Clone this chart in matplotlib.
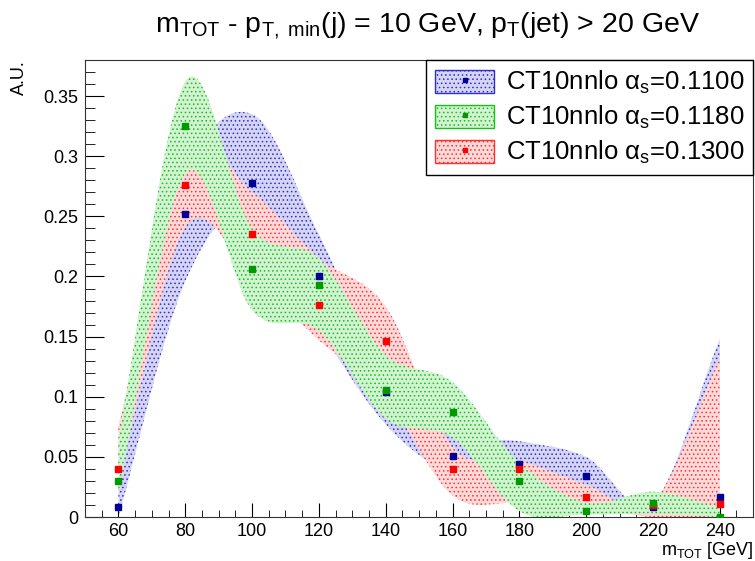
import numpy as np
import matplotlib.pyplot as plt
from matplotlib.path import Path
from matplotlib.patches import PathPatch, Patch
from matplotlib.lines import Line2D
from matplotlib.ticker import MultipleLocator, FuncFormatter

plt.rcParams['font.family'] = ['Liberation Sans', 'DejaVu Sans']
plt.rcParams['mathtext.fontset'] = 'custom'
plt.rcParams['mathtext.rm'] = 'Liberation Sans'
plt.rcParams['mathtext.it'] = 'Liberation Sans:italic'
plt.rcParams['hatch.linewidth'] = 0.6

# data
m_tot = [60, 80, 100, 120, 140, 160, 180, 200, 220, 240]

val_110 = [0.008, 0.252, 0.278, 0.200, 0.104, 0.051, 0.044, 0.034, 0.008, 0.017]
up_110 = [0.045, 0.28, 0.335, 0.235, 0.12, 0.07, 0.063, 0.05, 0.012, 0.148]
lo_110 = [0.0, 0.196, 0.255, 0.158, 0.077, 0.035, 0.025, 0.01, 0.0, 0.0]

val_118 = [0.030, 0.325, 0.206, 0.193, 0.106, 0.087, 0.030, 0.005, 0.012, 0.000]
up_118 = [0.065, 0.362, 0.24, 0.215, 0.135, 0.112, 0.045, 0.012, 0.021, 0.008]
lo_118 = [0.02, 0.285, 0.172, 0.155, 0.082, 0.066, 0.005, 0.002, 0.003, 0.0]

val_130 = [0.040, 0.276, 0.235, 0.176, 0.146, 0.040, 0.040, 0.017, 0.010, 0.011]
up_130 = [0.075, 0.30, 0.27, 0.215, 0.175, 0.058, 0.047, 0.027, 0.012, 0.132]
lo_130 = [0.03, 0.241, 0.20, 0.147, 0.10, 0.018, 0.012, 0.008, 0.0, 0.0]

labels = ['CT10nnlo α$_{\\rm s}$=0.1100',
          'CT10nnlo α$_{\\rm s}$=0.1180',
          'CT10nnlo α$_{\\rm s}$=0.1300']

face_110, dots_110, pt_110 = '#d5d5f3', '#3030c8', '#000099'
face_118, dots_118, pt_118 = '#d3f1d3', '#18c018', '#009900'
face_130, dots_130, pt_130 = '#fddada', '#ff3030', '#ff0000'


def smooth_segments(xs, ys):
    # cubic bezier pieces through the points (catmull-rom tangents)
    n = len(xs)
    m = []
    for i in range(n):
        if i == 0:
            m.append(ys[1] - ys[0])
        elif i == n - 1:
            m.append(ys[-1] - ys[-2])
        else:
            m.append((ys[i + 1] - ys[i - 1]) / 2)
    verts = []
    for i in range(n - 1):
        dx = xs[i + 1] - xs[i]
        verts += [(xs[i] + dx / 3, ys[i] + m[i] / 3),
                  (xs[i + 1] - dx / 3, ys[i + 1] - m[i + 1] / 3),
                  (xs[i + 1], ys[i + 1])]
    return verts


def band(ax, xs, up, lo, face, dots, z):
    verts = [(xs[0], up[0])] + smooth_segments(xs, up)
    codes = [Path.MOVETO] + [Path.CURVE4] * (len(verts) - 1)
    verts.append((xs[-1], lo[-1]))
    codes.append(Path.LINETO)
    low = smooth_segments(xs[::-1], lo[::-1])
    verts += low
    codes += [Path.CURVE4] * len(low)
    verts.append((xs[0], up[0]))
    codes.append(Path.CLOSEPOLY)
    p = PathPatch(Path(verts, codes), facecolor=face, edgecolor=dots,
                  hatch='....', lw=0, zorder=z)
    ax.add_patch(p)


fig = plt.figure(figsize=(7.55, 5.61), dpi=100)
ax = fig.add_axes([0.1126, 0.0784, 0.885, 0.8146])

band(ax, m_tot, up_110, lo_110, face_110, dots_110, 1)
band(ax, m_tot, up_130, lo_130, face_130, dots_130, 2)
band(ax, m_tot, up_118, lo_118, face_118, dots_118, 3)

ax.plot(m_tot, val_110, 's', color=pt_110, ms=5, zorder=5)
ax.plot(m_tot, val_130, 's', color=pt_130, ms=5, zorder=6)
ax.plot(m_tot, val_118, 's', color=pt_118, ms=5, zorder=7)

ax.set_xlim(50, 250)
ax.set_ylim(0, 0.38)
ax.xaxis.set_major_locator(MultipleLocator(20))
ax.xaxis.set_minor_locator(MultipleLocator(5))
ax.yaxis.set_major_locator(MultipleLocator(0.05))
ax.yaxis.set_minor_locator(MultipleLocator(0.01))
ax.yaxis.set_major_formatter(FuncFormatter(lambda v, p: '%g' % round(v, 3)))
ax.tick_params(axis='both', which='both', direction='in', labelsize=13)
ax.tick_params(axis='x', which='major', length=10, pad=4)
ax.tick_params(axis='x', which='minor', length=5)
ax.tick_params(axis='y', which='major', length=14, pad=5)
ax.tick_params(axis='y', which='minor', length=7)
for s in ax.spines.values():
    s.set_color('#333333')

ax.set_xlabel(r'm$_{\rm TOT}$ [GeV]', loc='right', fontsize=13)
ax.xaxis.set_label_coords(1.0, -0.05)
ax.set_ylabel('A.U.', loc='top', fontsize=13)
ax.yaxis.set_label_coords(-0.085, 1.0)

fig.text(0.566, 0.955,
         r'm$_{\rm TOT}$ - p$_{\rm T,\ min}$(j) = 10 GeV, p$_{\rm T}$(jet) > 20 GeV',
         ha='center', va='center', fontsize=20.5)

handles = []
for face, dots, pc in [(face_110, dots_110, pt_110),
                       (face_118, dots_118, pt_118),
                       (face_130, dots_130, pt_130)]:
    handles.append((Patch(facecolor=face, edgecolor=dots, hatch='....', lw=1),
                    Line2D([], [], marker='s', ms=3, color=pc, ls='none')))
leg = ax.legend(handles, labels, loc='upper right', bbox_to_anchor=(1, 1),
                borderaxespad=0, fontsize=18.5, fancybox=False, framealpha=1,
                edgecolor='black', handlelength=2.3, handleheight=1.0,
                labelspacing=0.3, borderpad=0.35, handletextpad=0.45)
leg.get_frame().set_linewidth(1)

fig.savefig('out.png', dpi=100)
